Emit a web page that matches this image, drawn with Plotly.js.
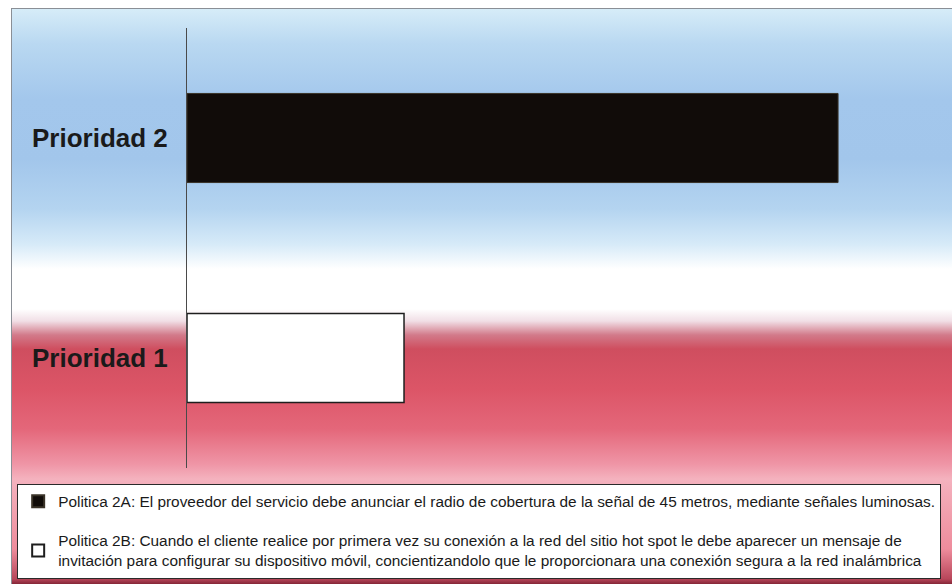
<!DOCTYPE html>
<html>
<head>
<meta charset="utf-8">
<script src="https://cdn.plot.ly/plotly-3.0.1.min.js"></script>
<style>
  html, body { margin: 0; padding: 0; background: #ffffff; }
  #wrap { position: relative; width: 952px; height: 584px; overflow: hidden; }
  /* chart area backdrop: blue sky fading to white, then red */
  #backdrop {
    position: absolute; left: 11px; top: 8px; width: 941px; height: 576px;
    border-left: 1px solid #8a8f96; border-top: 1px solid #8a8f96;
    background: linear-gradient(to bottom,
      #d6ecf8 0px, #b9d8f1 35px, #a3c7ec 90px, #a2c6eb 150px,
      #b4d4f0 200px, #d6eaf8 235px, #ffffff 260px, #ffffff 300px,
      #f1dfe6 312px, #d27a8a 326px, #cf4e5f 340px, #dc5567 380px,
      #e4677a 420px, #ef95a6 455px, #f4b2be 470px, #ee8c9c 540px,
      #b8465a 570px, #7a2030 576px);
  }
  #chart { position: absolute; left: 0; top: 0; width: 952px; height: 584px; }
</style>
</head>
<body>
<div id="wrap">
  <div id="backdrop"></div>
  <div id="chart"></div>
</div>
<script>
// Categories and values of the two priority bars
const categories = ['Prioridad 1', 'Prioridad 2'];
const politica2A_cat = ['Prioridad 2'];
const politica2A_val = [3];
const politica2B_cat = ['Prioridad 1'];
const politica2B_val = [1];
const politica2A_name = 'Politica 2A: El proveedor del servicio debe anunciar el radio de cobertura de la señal de 45 metros, mediante señales luminosas.';
const politica2B_name = 'Politica 2B: Cuando el cliente realice por primera vez su conexión a la red del sitio hot spot le debe aparecer un mensaje de<br>invitación para configurar su dispositivo móvil, concientizandolo que le proporcionara una conexión segura a la red inalámbrica';

const traces = [
  {
    type: 'bar', orientation: 'h',
    y: politica2A_cat, x: politica2A_val,
    name: politica2A_name, legendgroup: 'a',
    width: 0.405,
    marker: { color: '#110c09', line: { color: '#3a3328', width: 1 } },
    hoverinfo: 'x+y'
  },
  {
    type: 'bar', orientation: 'h',
    y: politica2B_cat, x: politica2B_val,
    name: politica2B_name, legendgroup: 'b',
    width: 0.405,
    marker: { color: '#ffffff', line: { color: '#1e1e1e', width: 1.5 } },
    hoverinfo: 'x+y'
  }
];

const layout = {
  width: 952, height: 584,
  paper_bgcolor: 'rgba(0,0,0,0)',
  plot_bgcolor: 'rgba(0,0,0,0)',
  margin: { l: 187, r: 0, t: 28, b: 116 },
  barmode: 'overlay',
  showlegend: true,
  font: { family: 'Liberation Sans, Arial, sans-serif', color: '#1a1a1a' },
  xaxis: {
    range: [0, 3.525], showgrid: false, zeroline: false,
    showticklabels: false, ticks: '', showline: false, fixedrange: true
  },
  yaxis: {
    type: 'category', categoryorder: 'array', categoryarray: categories,
    range: [-0.5, 1.5],
    showgrid: false, zeroline: false, ticks: '',
    showline: true, linecolor: '#4a4a4a', linewidth: 1,
    ticklabelstandoff: 13,
    tickfont: { family: 'Liberation Sans, Arial, sans-serif', size: 26, color: '#1a1a1a', weight: 'bold' }
  },
  legend: {
    x: -0.222, xanchor: 'left', y: -0.036, yanchor: 'top',
    orientation: 'v', traceorder: 'grouped', tracegroupgap: 16,
    bgcolor: '#ffffff', bordercolor: '#2a2a2a', borderwidth: 1,
    font: { family: 'Liberation Sans, Arial, sans-serif', size: 15.4, color: '#1a1a1a' },
    itemwidth: 30, itemsizing: 'constant'
  }
};

Plotly.newPlot('chart', traces, layout, { displayModeBar: false, staticPlot: true });
</script>
</body>
</html>
